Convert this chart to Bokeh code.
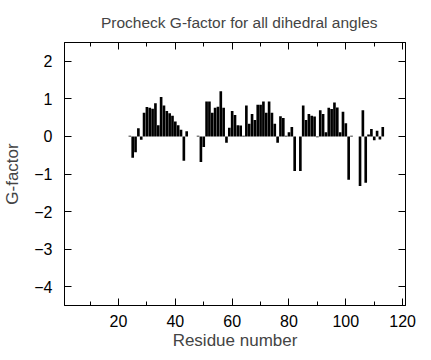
from bokeh.plotting import figure
from bokeh.models import LinearAxis, Range1d, FixedTicker, Title, CustomJSTickFormatter
from bokeh.embed import file_html
from bokeh.resources import INLINE

residues = [24, 25, 26, 27, 28, 29, 30, 31, 32, 33, 34, 35, 36, 37, 38, 39, 40, 41, 42, 43, 44,
            48, 49, 50, 51, 52, 53, 54, 55, 56, 57, 58, 59, 60, 61, 62, 63, 64, 65, 66, 67, 68,
            69, 70, 71, 72, 73, 74, 75, 76, 77, 78, 79, 80, 81, 82, 84, 85, 86, 87, 88, 89, 90,
            91, 92, 93, 94, 95, 96, 97, 98, 99, 100, 101, 102, 105, 106, 107, 108, 109, 110,
            111, 112, 113]
gfactor = [0.02, -0.57, -0.42, 0.22, -0.09, 0.63, 0.78, 0.76, 0.74, 0.88, 0.30, 1.05, 0.82,
           0.68, 0.62, 0.55, 0.40, 0.30, 0.18, -0.65, 0.14,
           0.02, -0.68, -0.28, 0.93, 0.93, 0.63, 0.76, 0.79, 1.20, 0.76, -0.17, 0.23, 0.68,
           0.57, 0.30, 0.29, 0.02, 0.82, 0.34, 0.60, 0.44,
           0.84, 0.84, 0.93, 0.63, 0.93, 0.63, 0.34, -0.17, 0.54, 0.49, 0.02, 0.11, 0.25,
           -0.92, -0.92, 0.82, 0.44, 0.60, 0.55, 0.53, -0.02,
           0.70, 0.60, 0.11, 0.76, 0.73, 0.90, 0.77, 0.11, 0.66, 0.35, -1.15, 0.02, -1.32,
           0.70, -1.23, 0.05, 0.20, -0.10,
           0.15, -0.08, 0.25]
x_ticks = [20, 40, 60, 80, 100, 120]
x_minor = [10, 30, 50, 70, 90, 110]
y_ticks = [-4, -3, -2, -1, 0, 1, 2]
title_text = "Procheck G-factor for all dihedral angles"

FONT = "Liberation Sans"

p = figure(width=423, height=352, output_backend="svg", toolbar_location=None,
           x_range=Range1d(1, 121), y_range=Range1d(-4.5, 2.5),
           min_border_left=54, min_border_right=18, min_border_top=42, min_border_bottom=46)
p.title = Title(text=title_text, align="right",
                text_font=FONT, text_font_style="normal", text_font_size="15.5px",
                text_line_height=1.0, offset=28, standoff=23)

p.vbar(x=residues, top=gfactor, bottom=0, width=0.93, fill_color="black", line_color=None)

p.grid.visible = False
p.outline_line_color = "black"
p.outline_line_width = 1
p.background_fill_color = "white"

def style(ax, labels=True, minor=False):
    ax.major_tick_in = 7
    ax.major_tick_out = 0
    ax.minor_tick_in = 4 if minor else 0
    ax.minor_tick_out = 0
    ax.axis_line_color = "black"
    ax.major_tick_line_color = "black"
    ax.minor_tick_line_color = "black"
    ax.major_label_text_font = FONT
    ax.major_label_text_font_size = "16px"
    ax.major_label_text_color = "black"
    ax.axis_label_text_font = FONT
    ax.axis_label_text_font_size = "17px"
    ax.axis_label_text_font_style = "normal"
    if not labels:
        ax.formatter = CustomJSTickFormatter(code="return ''")
        ax.major_label_standoff = 0

xa = p.xaxis[0]
xa.ticker = FixedTicker(ticks=x_ticks, minor_ticks=x_minor)
xa.axis_label = "Residue number"
xa.major_label_standoff = 9
xa.axis_label_standoff = 1
style(xa, minor=True)

ya = p.yaxis[0]
ya.ticker = FixedTicker(ticks=y_ticks)
ya.axis_label = "G-factor"
ya.major_label_standoff = 12
ya.axis_label_standoff = 9
style(ya)

top_ax = LinearAxis(ticker=FixedTicker(ticks=x_ticks, minor_ticks=x_minor))
style(top_ax, labels=False, minor=True)
p.add_layout(top_ax, "above")

right_ax = LinearAxis(ticker=FixedTicker(ticks=y_ticks))
style(right_ax, labels=False)
p.add_layout(right_ax, "right")

open("out.html", "w").write(file_html(p, INLINE))
